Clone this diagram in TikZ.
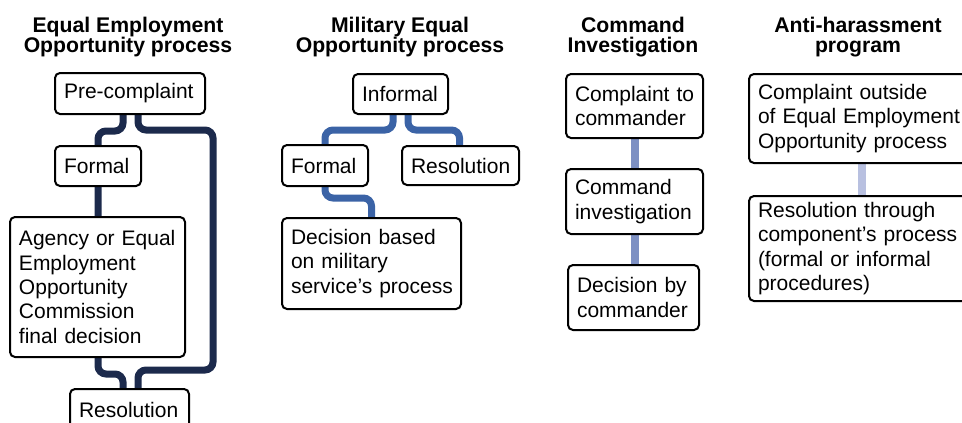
\documentclass[tikz,border=0pt]{standalone}
\usepackage{fontspec}
\setmainfont{Liberation Sans}
\usetikzlibrary{calc,backgrounds}
\definecolor{cnavy}{HTML}{1C2A4C}
\definecolor{cblue}{HTML}{3B63A6}
\definecolor{cmid}{HTML}{7D90C3}
\definecolor{clight}{HTML}{B8C0E0}
\tikzset{
  box/.style={draw=black, line width=2pt, rounded corners=5pt, fill=white,
    inner xsep=9pt, inner ysep=0pt, align=left, anchor=north west,
    font=\fontsize{21}{24.3}\selectfont},
  ptitle/.style={font=\bfseries\fontsize{21.2}{20.5}\selectfont, align=center,
    inner sep=0pt, anchor=base},
  link/.style={line width=7pt, rounded corners=8pt},
}
\begin{document}
\begin{tikzpicture}[x=1pt,y=-1pt]
\useasboundingbox (0,0) rectangle (962,423);

% titles
\node[ptitle] (t1) at (128,52.5) {Equal Employment\\Opportunity process};
\node[ptitle] (t2) at (400,52.5) {Military Equal\\Opportunity process};
\node[ptitle] (t3) at (633,52.5) {Command\\Investigation};
\node[ptitle] (t4) at (858,52.5) {Anti-harassment\\program};

% column 1 boxes (positions)
\coordinate (p1) at (54,72);
\coordinate (p2) at (54,145);
\coordinate (p3) at (9,216);
\coordinate (p4) at (69,388);
% column 2
\coordinate (q1) at (352,73);
\coordinate (q2) at (281,144);
\coordinate (q3) at (401,145);
\coordinate (q4) at (281,217);
% column 3
\coordinate (s1) at (565,73);
\coordinate (s2) at (565,168);
\coordinate (s3) at (567,264);
% column 4
\coordinate (u1) at (748,73);
\coordinate (u2) at (748,195);

% nodes
\node[box, minimum width=150pt, text width=132pt, minimum height=41pt] (pre) at (p1) {\mbox{Pre-complaint}};
\node[box, minimum width=86pt, text width=68pt, minimum height=40pt] (formal1) at (p2) {Formal};
\node[box, minimum width=175pt, text width=157pt, minimum height=140pt] (agency) at (p3)
  {\mbox{Agency or Equal}\\Employment\\Opportunity\\Commission\\\mbox{final decision}};
\node[box, minimum width=119pt, text width=101pt, minimum height=41pt] (res1) at (p4) {Resolution};

\node[box, minimum width=95pt, text width=77pt, minimum height=40pt] (informal) at (q1) {Informal};
\node[box, minimum width=86pt, text width=68pt, minimum height=41pt] (formal2) at (q2) {Formal};
\node[box, minimum width=117pt, text width=99pt, minimum height=39pt] (res2) at (q3) {Resolution};
\node[box, minimum width=179pt, text width=161pt, minimum height=91pt] (dec2) at (q4)
  {\mbox{Decision based}\\\mbox{on military}\\\mbox{service’s process}};

\node[box, minimum width=137pt, text width=119pt, minimum height=64pt] (c3a) at (s1) {\mbox{Complaint to}\\commander};
\node[box, minimum width=137pt, text width=119pt, minimum height=65pt] (c3b) at (s2) {Command\\investigation};
\node[box, minimum width=131pt, text width=113pt, minimum height=65pt] (c3c) at (s3) {\mbox{Decision by}\\commander};

\node[box, minimum width=222pt, text width=204pt, minimum height=89pt] (c4a) at (u1)
  {\mbox{Complaint outside}\\\mbox{of Equal Employment}\\\mbox{Opportunity process}};
\node[box, minimum width=222pt, text width=204pt, minimum height=105pt] (c4b) at (u2)
  {\mbox{Resolution through}\\\mbox{component’s process}\\\mbox{(formal or informal}\\procedures)};

% connectors (behind boxes)
\coordinate (r1) at (213,130);
\coordinate (r2) at (213,370);
\coordinate (k4) at ($(c4a.south)+(2,0)$);
\begin{scope}[on background layer]
  \draw[link, cnavy] ($(pre.south)+(-7,0)$) |- ($(formal1.north)+(0,-14)$)
      -- ($(agency.south -| formal1.north)+(0,16)$) -| ($(res1.north)+(-6.5,0)$);
  \draw[link, cnavy] ($(pre.south)+(8,0)$) |- (r1) -- (r2) -| ($(res1.north)+(8.5,0)$);
  \draw[link, cblue] ($(informal.south)+(-7.5,0)$) |- ($(formal2.north)+(0,-14)$) -- (formal2.north);
  \draw[link, cblue] ($(informal.south)+(7.5,0)$) |- ($(res2.north)+(-1,-15)$) -- ($(res2.north)+(-1,0)$);
  \draw[link, cblue] (formal2.south) |- ($(dec2.north)+(0,-19)$) -- (dec2.north);
  \draw[cmid, line width=8pt] (c3a.south) -- (c3a.south |- c3b.north);
  \draw[cmid, line width=8pt] (c3b.south) -- (c3b.south |- c3c.north);
  \draw[clight, line width=8pt] (k4) -- (k4 |- c4b.north);
\end{scope}
\end{tikzpicture}
\end{document}
